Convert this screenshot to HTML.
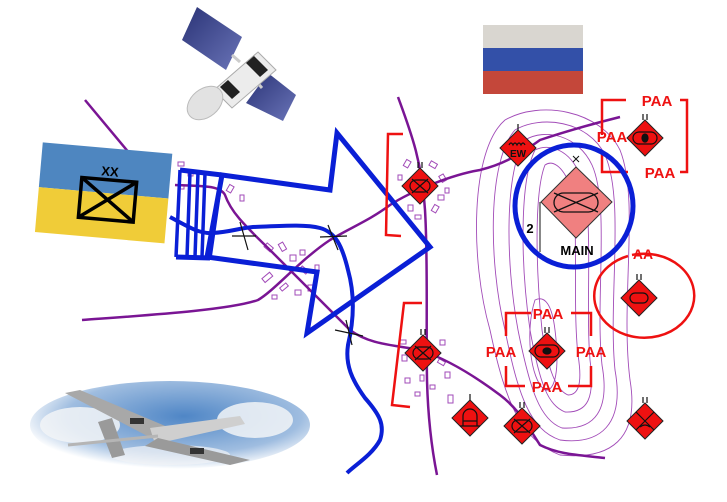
<!DOCTYPE html>
<html><head><meta charset="utf-8"><style>
html,body{margin:0;padding:0;background:#fff;width:727px;height:502px;overflow:hidden}
svg{display:block}
text{font-family:"Liberation Sans",sans-serif;font-weight:bold}
</style></head><body>
<svg width="727" height="502" viewBox="0 0 727 502" xmlns="http://www.w3.org/2000/svg">
<defs>
<radialGradient id="sky" cx="0.55" cy="0.4" r="0.6">
<stop offset="0" stop-color="#4f86c6"/><stop offset="0.7" stop-color="#9fbde0"/><stop offset="1" stop-color="#fff"/>
</radialGradient>
<linearGradient id="panel" x1="0" y1="0" x2="1" y2="1"><stop offset="0" stop-color="#2a3376"/><stop offset="1" stop-color="#6a74b8"/></linearGradient>
<g id="dia"><polygon points="0,-18 18,0 0,18 -18,0" fill="#ee1111" stroke="#222" stroke-width="1"/></g>
</defs>

<!-- satellite -->
<polygon points="197,7 242,37 226,70 182,40" fill="url(#panel)"/>
<polygon points="268,73 296,95 283,121 246,103" fill="url(#panel)"/>
<line x1="232" y1="55" x2="240" y2="62" stroke="#ccc" stroke-width="3"/>
<line x1="255" y1="80" x2="262" y2="88" stroke="#ccc" stroke-width="3"/>
<polygon points="258,52 276,70 232,108 214,90" fill="#ececec" stroke="#aaa"/>
<polygon points="254,56 268,70 260,77 246,63" fill="#222"/>
<polygon points="228,80 240,92 232,99 220,87" fill="#222"/>
<ellipse cx="205" cy="103" rx="20" ry="14" fill="#e2e2e2" stroke="#bbb" transform="rotate(-40 205 103)"/>

<!-- Russian flag -->
<rect x="483" y="25" width="100" height="23" fill="#d9d6d0"/>
<rect x="483" y="48" width="100" height="23" fill="#3350a8"/>
<rect x="483" y="71" width="100" height="23" fill="#c4473a"/>

<!-- drone -->
<ellipse cx="170" cy="425" rx="140" ry="44" fill="url(#sky)"/>
<ellipse cx="80" cy="425" rx="40" ry="18" fill="#f2f4f7" opacity="0.85"/>
<ellipse cx="255" cy="420" rx="38" ry="18" fill="#f2f4f7" opacity="0.85"/>
<ellipse cx="170" cy="455" rx="60" ry="10" fill="#f2f4f7" opacity="0.7"/>
<polygon points="65,393 80,390 170,428 155,440" fill="#a8a8a8"/>
<polygon points="150,428 240,416 245,424 155,444" fill="#cfcfcf"/>
<polygon points="158,438 250,460 230,465 145,446" fill="#9a9a9a"/>
<polygon points="98,422 112,418 125,455 112,458" fill="#9a9a9a"/>
<line x1="68" y1="445" x2="158" y2="436" stroke="#b5b5b5" stroke-width="3"/>
<rect x="130" y="418" width="14" height="6" fill="#333"/><rect x="190" y="448" width="14" height="6" fill="#333"/>

<!-- contours -->
<g fill="none" stroke="#a24bb8" stroke-width="0.9">
<path d="M505,120 C470,150 470,260 490,330 C505,400 520,440 560,455 C610,460 640,440 630,380 C620,300 640,200 620,150 C600,110 540,100 505,120Z"/>
<path d="M515,130 C488,160 488,260 505,330 C518,395 530,430 560,440 C600,445 625,425 615,370 C608,300 625,200 605,155 C588,120 540,115 515,130Z"/>
<path d="M525,140 C505,170 505,260 518,330 C530,390 540,420 562,428 C595,430 610,410 602,365 C595,300 610,205 592,165 C578,135 545,128 525,140Z"/>
<path d="M535,150 C520,180 520,260 530,330 C540,385 548,405 565,412 C588,413 595,398 590,360 C585,300 595,210 580,175 C570,150 550,143 535,150Z"/>
<path d="M545,165 C535,190 535,260 542,330 C548,370 556,390 568,395 C580,395 582,380 578,355 C572,300 580,215 570,185 C562,165 552,160 545,165Z"/>
<path d="M535,300 C525,330 530,380 545,390 C555,392 560,370 555,330 C552,305 545,295 535,300Z"/>
</g>

<!-- town buildings -->
<g fill="#fff" stroke="#a24bb8" stroke-width="1">
<rect x="178" y="162" width="6" height="4"/><rect x="188" y="170" width="5" height="6"/><rect x="178" y="185" width="6" height="4"/>
<rect x="228" y="185" width="5" height="7" transform="rotate(30 230 188)"/><rect x="240" y="195" width="4" height="6"/>
<rect x="265" y="245" width="8" height="5" transform="rotate(40 269 247)"/><rect x="280" y="243" width="5" height="8" transform="rotate(-30 282 247)"/>
<rect x="290" y="255" width="6" height="6"/><rect x="300" y="268" width="8" height="4" transform="rotate(40 304 270)"/>
<rect x="262" y="275" width="10" height="5" transform="rotate(-40 267 277)"/><rect x="280" y="285" width="8" height="4" transform="rotate(-40 284 287)"/>
<rect x="295" y="290" width="6" height="5"/><rect x="272" y="295" width="5" height="4"/><rect x="308" y="285" width="5" height="6"/>
<rect x="300" y="250" width="5" height="5"/><rect x="315" y="265" width="4" height="5"/>
<rect x="405" y="160" width="5" height="7" transform="rotate(30 407 163)"/><rect x="430" y="162" width="7" height="5" transform="rotate(30 433 164)"/>
<rect x="440" y="175" width="5" height="7" transform="rotate(-30 442 178)"/><rect x="438" y="195" width="6" height="5"/>
<rect x="433" y="205" width="5" height="7" transform="rotate(30 435 208)"/><rect x="408" y="205" width="5" height="6"/>
<rect x="415" y="215" width="6" height="4"/><rect x="445" y="188" width="4" height="5"/><rect x="398" y="175" width="4" height="5"/>
<rect x="400" y="340" width="6" height="4"/><rect x="402" y="355" width="5" height="6"/><rect x="440" y="340" width="5" height="5"/>
<rect x="438" y="360" width="7" height="4" transform="rotate(30 441 362)"/><rect x="445" y="372" width="5" height="6"/>
<rect x="420" y="375" width="4" height="6"/><rect x="430" y="385" width="5" height="4"/><rect x="405" y="378" width="5" height="5"/>
<rect x="448" y="395" width="5" height="8"/><rect x="415" y="392" width="5" height="4"/>
</g>

<!-- roads -->
<g fill="none" stroke="#7a1594" stroke-width="2.5">
<path d="M85,100 L135,160"/>
<path d="M82,320 C150,315 230,310 258,300 C275,290 300,260 330,240 C350,228 370,220 390,205 C410,192 450,175 480,170 C500,165 515,158 540,140 C570,130 600,122 620,117"/>
<path d="M175,185 C200,186 220,185 225,195 C232,215 250,230 275,255 C300,280 330,310 350,330 C370,345 395,345 420,350 C450,360 480,380 500,395 C520,410 530,430 540,445 C560,455 580,455 605,458"/>
<path d="M398,97 C410,130 422,160 425,210 C428,260 426,320 427,380 C428,420 432,450 437,475"/>
</g>

<!-- river -->
<path d="M170,217 C190,228 200,234 213,233 C230,232 240,228 253,227 C280,226 305,224 320,228 C335,232 342,245 348,270 C355,295 354,320 348,345 C345,365 352,380 365,398 C380,415 385,425 380,440 C372,455 355,465 347,473" fill="none" stroke="#0a1fd6" stroke-width="4"/>

<!-- crossings -->
<g stroke="#111" stroke-width="1.2">
<line x1="232" y1="236" x2="256" y2="236"/><line x1="240" y1="222" x2="248" y2="250"/>
<line x1="320" y1="237" x2="347" y2="236"/><line x1="328" y1="225" x2="338" y2="250"/>
<line x1="335" y1="330" x2="363" y2="336"/><line x1="346" y1="320" x2="352" y2="345"/>
</g>

<!-- Ukrainian flag -->
<g transform="rotate(5 105 200)">
<rect x="38" y="148" width="130" height="45" fill="#4e86c0"/>
<rect x="38" y="193" width="130" height="45" fill="#f0cc38"/>
</g>
<g transform="rotate(5 110 200)" fill="none" stroke="#000" stroke-width="3.5">
<rect x="80" y="180" width="55" height="40"/>
<line x1="80" y1="180" x2="135" y2="220"/><line x1="135" y1="180" x2="80" y2="220"/>
</g>
<text x="110" y="176" font-size="13" font-weight="normal" text-anchor="middle" transform="rotate(5 110 172)">XX</text>

<!-- big arrow -->
<g fill="none" stroke="#0a1fd6" stroke-width="5">
<polygon points="222,175 330,190 337,133 430,247 307,333 317,272 207,257" fill="none"/>
<path d="M180,170 L176,257 M190,172 L187,257 M198,172 L195,257 M205,173 L202,257 M222,175 L210,258" stroke-width="3.5"/>
<path d="M180,170 L222,175 M176,257 L210,258"/>
</g>

<!-- red brackets -->
<g fill="none" stroke="#ee1111" stroke-width="2.5">
<polyline points="403,134 388,134 386,235 401,236"/>
<polyline points="422,303 404,303 392,405 410,407"/>
<polyline points="602,135 602,100 626,100"/>
<polyline points="680,100 687,100 687,172 680,172"/>
<polyline points="602,150 602,172 628,172"/>
<polyline points="531,313 506,313 506,336"/><polyline points="571,313 591,313 591,336"/>
<polyline points="506,366 506,386 525,386"/><polyline points="568,386 591,386 591,366"/>
</g>
<g fill="#ee1111" font-size="15" text-anchor="middle">
<text x="657" y="106">PAA</text><text x="612" y="142">PAA</text><text x="660" y="178">PAA</text>
<text x="548" y="319">PAA</text><text x="501" y="357">PAA</text><text x="591" y="357">PAA</text><text x="547" y="392">PAA</text>
<text x="643" y="259" font-size="14">AA</text>
</g>
<path d="M632,255 A50,42 0 1 1 628,256" fill="none" stroke="#ee1111" stroke-width="2.5"/>

<!-- blue circle -->
<ellipse cx="574" cy="206" rx="59" ry="61" fill="none" stroke="#0a1fd6" stroke-width="5"/>
<!-- MAIN -->
<polygon points="576,167 612,202 576,238 541,202" fill="#f08080" stroke="#333" stroke-width="1"/>
<rect x="554" y="193" width="44" height="19" rx="9.5" fill="none" stroke="#111" stroke-width="1.3"/>
<line x1="554" y1="193" x2="598" y2="212" stroke="#111" stroke-width="1.3"/><line x1="598" y1="193" x2="554" y2="212" stroke="#111" stroke-width="1.3"/>
<line x1="540" y1="202" x2="540" y2="252" stroke="#111" stroke-width="1"/>
<text x="530" y="233" font-size="13" text-anchor="middle">2</text>
<text x="577" y="255" font-size="13" text-anchor="middle">MAIN</text>
<path d="M573,156 l6,6 M579,156 l-6,6" stroke="#111"/>

<!-- unit diamonds -->
<g stroke="#111" fill="none" stroke-width="1.2">
<g transform="translate(518,148)"><use href="#dia"/><line x1="0" y1="-18" x2="0" y2="-24"/><path d="M-9,-3 q2,-4 4,0 q2,-4 4,0 q2,-4 4,0 q2,-4 4,0"/><text x="0" y="9" font-size="10" fill="#111" stroke="none" text-anchor="middle">EW</text></g>
<g transform="translate(645,138)"><use href="#dia"/><path d="M-2,-18 v-6 M2,-18 v-6"/><rect x="-12" y="-6" width="24" height="12" rx="6"/><ellipse cx="0" cy="0" rx="3" ry="4" fill="#111"/></g>
<g transform="translate(420,186)"><use href="#dia"/><path d="M-2,-18 v-6 M2,-18 v-6"/><rect x="-10" y="-6" width="20" height="12" rx="6"/><path d="M-8,-7 L8,7 M8,-7 L-8,7"/></g>
<g transform="translate(423,353)"><use href="#dia"/><path d="M-2,-18 v-6 M2,-18 v-6"/><rect x="-10" y="-6" width="20" height="12" rx="6"/><path d="M-8,-7 L8,7 M8,-7 L-8,7"/></g>
<g transform="translate(639,298)"><use href="#dia"/><path d="M-2,-18 v-6 M2,-18 v-6"/><rect x="-9" y="-5" width="18" height="10" rx="5"/></g>
<g transform="translate(547,351)"><use href="#dia"/><path d="M-2,-18 v-6 M2,-18 v-6"/><rect x="-12" y="-6" width="24" height="12" rx="6"/><ellipse cx="0" cy="0" rx="4" ry="3" fill="#111"/></g>
<g transform="translate(470,418)"><use href="#dia"/><line x1="0" y1="-18" x2="0" y2="-24"/><path d="M-7,8 v-10 a7,7 0 0 1 14,0 v10 M-10,8 h20 M-7,3 h14"/></g>
<g transform="translate(522,426)"><use href="#dia"/><path d="M-2,-18 v-6 M2,-18 v-6"/><rect x="-10" y="-6" width="20" height="12" rx="6"/><path d="M-8,-7 L8,7 M8,-7 L-8,7"/></g>
<g transform="translate(645,421)"><use href="#dia"/><path d="M-2,-18 v-6 M2,-18 v-6"/><path d="M-9,-9 L9,9 M9,-9 L-9,9"/><path d="M-5,6 q5,-4 10,0"/></g>
</g>
</svg>
</body></html>
